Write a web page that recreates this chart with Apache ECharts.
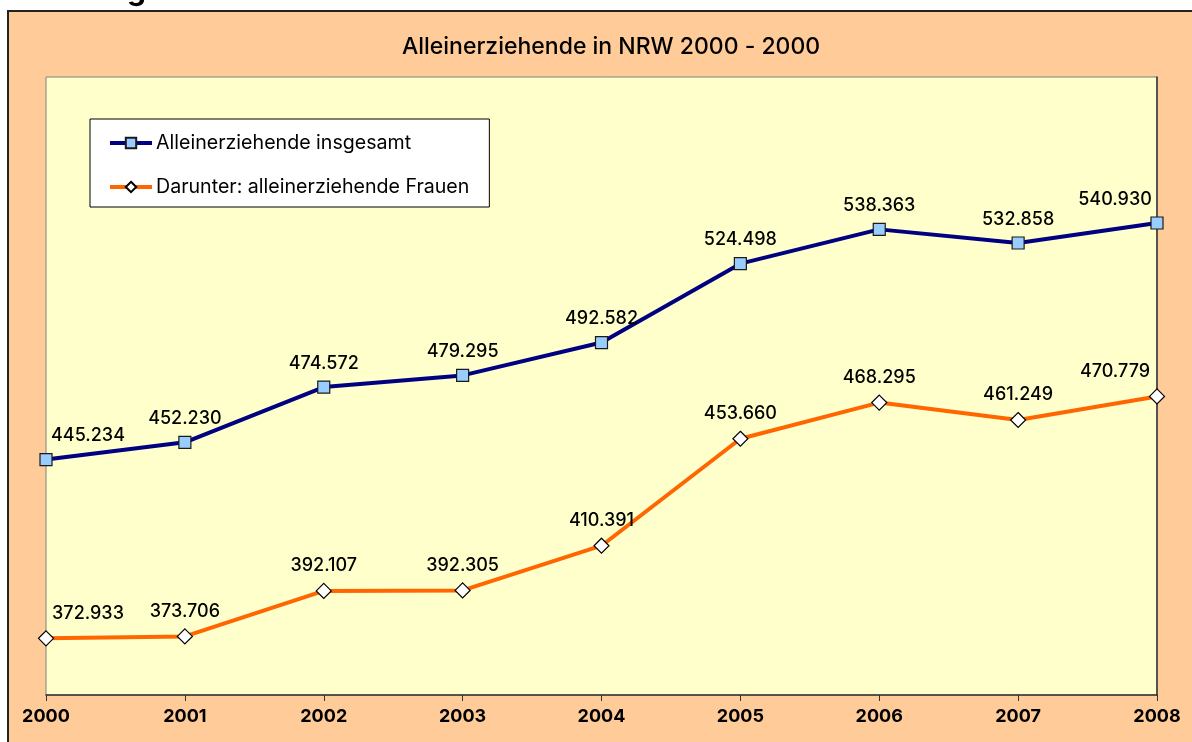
<!DOCTYPE html>
<html>
<head>
<meta charset="utf-8">
<script src="https://cdn.jsdelivr.net/npm/echarts@6/dist/echarts.min.js"></script>
<style>
html,body{margin:0;padding:0;background:#ffffff;}
#chart{width:1192px;height:742px;}
</style>
</head>
<body>
<div id="chart"></div>
<script>
const titleText = 'Alleinerziehende in NRW 2000 - 2000';
const years = ['2000','2001','2002','2003','2004','2005','2006','2007','2008'];
const seriesNames = ['Alleinerziehende insgesamt', 'Darunter: alleinerziehende Frauen'];
const insgesamt = [445234, 452230, 474572, 479295, 492582, 524498, 538363, 532858, 540930];
const frauen = [372933, 373706, 392107, 392305, 410391, 453660, 468295, 461249, 470779];

function fmt(v){
  return String(v).replace(/\B(?=(\d{3})+(?!\d))/g, '.');
}
const FONT = "Inter, 'DejaVu Sans', sans-serif";

function withLabelShift(arr){
  return arr.map(function(v,i){
    const item = {value: v};
    if(i === 0) item.label = {offset:[42,0]};
    else if(i === arr.length-1) item.label = {offset:[-42,0]};
    return item;
  });
}

const chart = echarts.init(document.getElementById('chart'), null, {renderer:'canvas'});
chart.setOption({
  backgroundColor: '#ffffff',
  animation: false,
  graphic: [{
    type: 'rect', z: -10, silent: true,
    shape: {x: 8, y: 11, width: 1200, height: 760},
    style: {fill: '#FFCC99', stroke: '#222222', lineWidth: 2}
  },{
    type: 'text', silent: true, x: 127, y: 6, z: -20,
    style: {text: 'g', font: 'bold 30px ' + FONT, fill: '#000', align: 'left', verticalAlign: 'bottom',
      textAlign: 'left', textVerticalAlign: 'bottom'}
  },{
    type: 'text', silent: true, x: 611, y: 47,
    style: {text: titleText, font: '500 23px ' + FONT, fill: '#000', align: 'center', verticalAlign: 'middle',
      textAlign: 'center', textVerticalAlign: 'middle'}
  }],
  legend: {
    orient: 'vertical', left: 90, top: 119,
    padding: [14, 20, 10, 18],
    itemGap: 24,
    itemWidth: 42, itemHeight: 13,
    backgroundColor: '#ffffff',
    borderColor: '#000000', borderWidth: 1,
    borderRadius: 0,
    textStyle: {fontFamily: FONT, fontSize: 19.6, color: '#000', padding:[0,0,0,-1]},
    data: [
      {name: seriesNames[0], lineStyle: {width: 4}},
      {name: seriesNames[1], lineStyle: {width: 4}}
    ]
  },
  grid: {
    left: 46, right: 35, top: 77, bottom: 47,
    show: true, backgroundColor: '#FFFFCC', borderColor: '#808080', borderWidth: 1
  },
  xAxis: {
    type: 'category', data: years, boundaryGap: false,
    axisLine: {show: true, lineStyle: {color: '#333333', width: 1.5}},
    axisTick: {show: true, length: 6, alignWithLabel: true, lineStyle: {color: '#333333'}},
    axisLabel: {fontFamily: FONT, fontSize: 18, fontWeight: 700, color: '#000', margin: 13},
    splitLine: {show: false}
  },
  yAxis: [{
    type: 'value', min: 350000, max: 600000, interval: 50000,
    axisLabel: {show: false}, axisTick: {show: false},
    axisLine: {show: false}, splitLine: {show: false}
  },{
    type: 'value', position: 'right', min: 350000, max: 600000, interval: 50000,
    axisLabel: {show: false}, axisTick: {show: false},
    axisLine: {show: true, lineStyle: {color: '#333333', width: 1.5}}, splitLine: {show: false}
  }],
  series: [{
    name: seriesNames[0], type: 'line', data: withLabelShift(insgesamt),
    symbol: 'rect', symbolSize: 12,
    lineStyle: {color: '#000080', width: 4},
    itemStyle: {color: '#99CCFF', borderColor: '#1a1a1a', borderWidth: 1.2},
    label: {show: true, position: 'top', distance: 8, formatter: p => fmt(p.value),
      fontFamily: FONT, fontSize: 18, fontWeight: 500, color: '#000'},
    z: 3
  },{
    name: seriesNames[1], type: 'line', data: withLabelShift(frauen),
    symbol: 'diamond', symbolSize: 15,
    lineStyle: {color: '#FF6600', width: 4},
    itemStyle: {color: '#ffffff', borderColor: '#000000', borderWidth: 1.2},
    label: {show: true, position: 'top', distance: 8, formatter: p => fmt(p.value),
      fontFamily: FONT, fontSize: 18, fontWeight: 500, color: '#000'},
    z: 3
  }]
});
</script>
</body>
</html>
